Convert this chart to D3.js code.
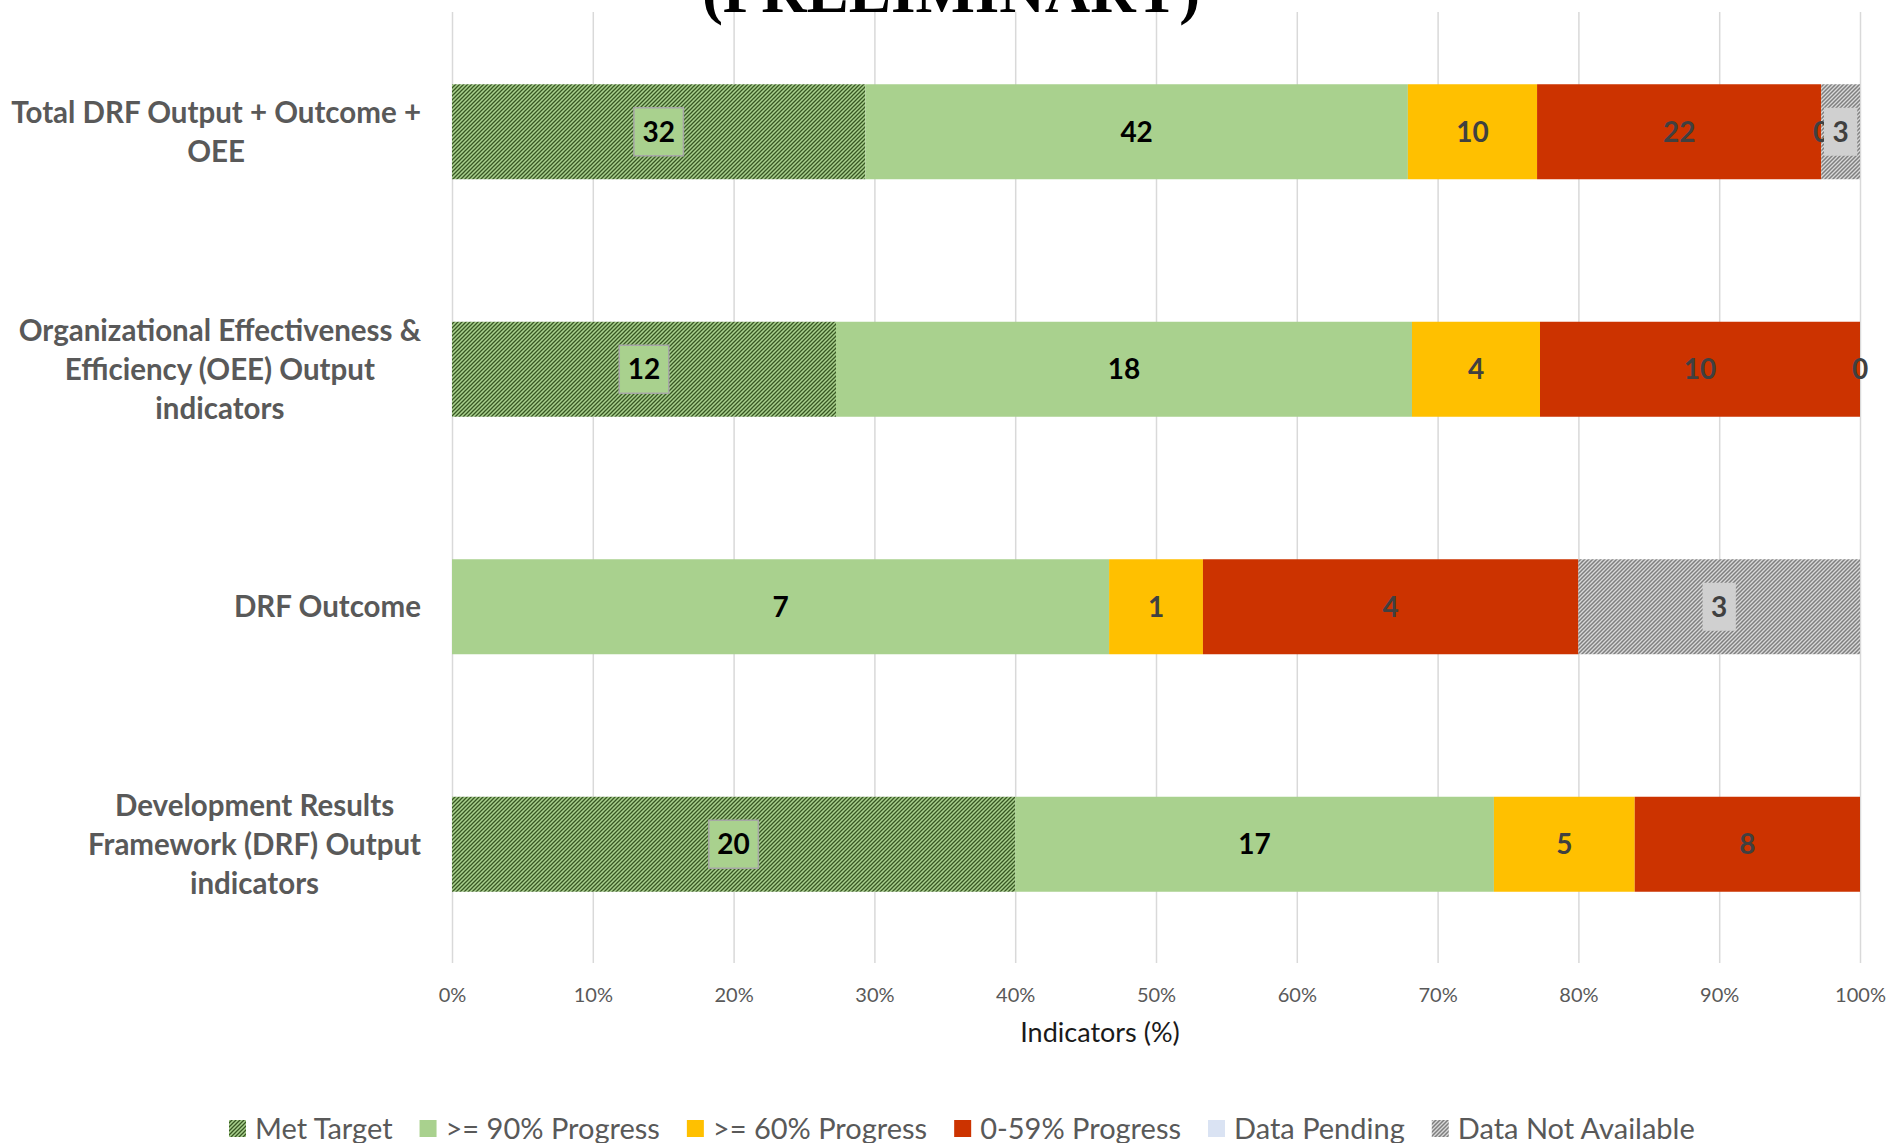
<!DOCTYPE html>
<html>
<head>
<meta charset="utf-8">
<script src="https://cdn.jsdelivr.net/npm/d3@7"></script>
<style>
  body { margin: 0; background: #fff; }
  svg { display: block; }
</style>
</head>
<body>
<div id="chart"></div>
<script>
// chart data
const categories = [
    "Total DRF Output + Outcome + OEE",
    "Organizational Effectiveness & Efficiency (OEE) Output indicators",
    "DRF Outcome",
    "Development Results Framework (DRF) Output indicators"
];
const categoryLines = [
    ["Total DRF Output + Outcome +", "OEE"],
    ["Organizational Effectiveness &", "Efficiency (OEE) Output", "indicators"],
    ["DRF Outcome"],
    ["Development Results", "Framework (DRF) Output", "indicators"]
];
const seriesNames = ["Met Target", ">= 90% Progress", ">= 60% Progress", "0-59% Progress", "Data Pending", "Data Not Available"];
const metTarget = [32, 12, null, 20];
const progress90 = [42, 18, 7, 17];
const progress60 = [10, 4, 1, 5];
const progress0to59 = [22, 10, 4, 8];
const dataPending = [0, 0, null, null];
const dataNotAvailable = [3, null, 3, null];
const xTicks = [0, 0.1, 0.2, 0.3, 0.4, 0.5, 0.6, 0.7, 0.8, 0.9, 1];

const seriesValues = [metTarget, progress90, progress60, progress0to59, dataPending, dataNotAvailable];
const fills = ["url(#hatchGreen)", "#a9d18e", "#ffc000", "#cc3300", "#dae3f3", "url(#hatchGray)"];
const labelColors = ["#000", "#000", "#404040", "#404040", "#404040", "#404040"];

const width = 1891, height = 1143;
const svg = d3.select("#chart").append("svg")
    .attr("width", width)
    .attr("height", height);

// hatch patterns
const defs = svg.append("defs");
function hatch(id, bg, fg, sw) {
    const p = defs.append("pattern")
        .attr("id", id)
        .attr("patternUnits", "userSpaceOnUse")
        .attr("width", 4)
        .attr("height", 4);
    p.append("rect").attr("width", 4).attr("height", 4).attr("fill", bg);
    p.append("path")
        .attr("d", "M-1,1 l2,-2 M0,4 l4,-4 M3,5 l2,-2")
        .attr("stroke", fg)
        .attr("stroke-width", sw);
}
hatch("hatchGreen", "#a9d18e", "#385723", 1.3);
hatch("hatchGray", "#d9d9d9", "#7f7f7f", 1.5);

const x = d3.scaleLinear().domain([0, 1]).range([452, 1860]);
const y = d3.scaleBand().domain(categories).range([13, 963])
    .paddingInner(0.6).paddingOuter(0.3);

// gridlines
svg.append("g")
    .attr("transform", "translate(0,963)")
    .call(d3.axisBottom(x).tickValues(xTicks).tickSize(-951).tickFormat(""))
    .call(g => g.select(".domain").remove())
    .call(g => g.selectAll("line").attr("stroke", "#d9d9d9").attr("stroke-width", 1.5));

// tick labels
svg.append("g")
    .attr("transform", "translate(0,985)")
    .call(d3.axisBottom(x).tickValues(xTicks).tickSize(0).tickFormat(d3.format(".0%")))
    .call(g => g.select(".domain").remove())
    .call(g => g.selectAll("text")
        .attr("fill", "#595959")
        .style("font-family", "Lato, sans-serif")
        .style("font-size", "20px"));

// axis title
svg.append("text")
    .attr("x", 1100)
    .attr("y", 1042)
    .attr("text-anchor", "middle")
    .style("font-family", "Lato, sans-serif")
    .style("font-size", "27px")
    .attr("fill", "#1a1a1a")
    .text("Indicators (%)");

// stacked data
const rows = categories.map((c, i) => {
    const r = { category: c };
    seriesNames.forEach((s, j) => r[s] = seriesValues[j][i] || 0);
    return r;
});
const stack = d3.stack().keys(seriesNames).offset(d3.stackOffsetExpand);
const stacked = stack(rows);

const layers = svg.append("g").selectAll("g")
    .data(stacked)
    .enter().append("g")
    .attr("fill", (d, i) => fills[i]);

layers.selectAll("rect")
    .data(d => d)
    .enter().append("rect")
    .attr("x", d => x(d[0]))
    .attr("y", d => y(d.data.category))
    .attr("width", d => x(d[1]) - x(d[0]))
    .attr("height", y.bandwidth());

// data labels
const labelG = svg.append("g")
    .style("font-family", "Lato, sans-serif")
    .style("font-weight", "bold")
    .style("font-size", "28px");

stacked.forEach((layer, si) => {
    layer.forEach((d, ci) => {
        const v = seriesValues[si][ci];
        if (v === null || v === undefined) return;
        const cx = x((d[0] + d[1]) / 2);
        const cy = y(d.data.category) + y.bandwidth() / 2;
        const g = labelG.append("g");
        const t = g.append("text")
            .attr("x", cx)
            .attr("y", cy)
            .attr("dy", "0.35em")
            .attr("text-anchor", "middle")
            .attr("fill", labelColors[si])
            .text(v);
        if (si === 0 || si === 5) {
            const w = t.node().getComputedTextLength() + 17;
            g.insert("rect", "text")
                .attr("x", cx - w / 2)
                .attr("y", cy - 24)
                .attr("width", w)
                .attr("height", 48)
                .attr("fill", si === 0 ? "#a9d18e" : "#d0d0d0")
                .attr("stroke", si === 0 ? "#a6a6a6" : "none")
                .attr("stroke-width", 1.5);
        }
    });
});

// category labels (each block right aligned, lines centered inside block)
const catG = svg.append("g")
    .style("font-family", "Lato, sans-serif")
    .style("font-weight", "bold")
    .style("font-size", "29.5px")
    .attr("fill", "#595959");

categories.forEach((c, i) => {
    const lines = categoryLines[i];
    const lh = 39;
    const cy = y(c) + y.bandwidth() / 2;
    const t = catG.append("text").attr("text-anchor", "middle");
    const spans = lines.map((ln, k) => t.append("tspan")
        .attr("y", cy + (k - (lines.length - 1) / 2) * lh)
        .attr("dy", "0.35em")
        .text(ln));
    const maxW = d3.max(spans, s => s.node().getComputedTextLength());
    spans.forEach(s => s.attr("x", 421 - maxW / 2));
});

// title (partly cut off at top)
svg.append("text")
    .attr("x", 951)
    .attr("y", 12)
    .attr("text-anchor", "middle")
    .style("font-family", "'Liberation Serif', serif")
    .style("font-weight", "bold")
    .style("font-size", "63px")
    .attr("fill", "#000")
    .text("(PRELIMINARY)");

// legend
const legendFills = ["url(#hatchGreen)", "#a9d18e", "#ffc000", "#cc3300", "#dae3f3", "url(#hatchGray)"];
const legend = svg.append("g")
    .style("font-family", "Lato, sans-serif")
    .style("font-size", "29px")
    .attr("fill", "#595959");
let lx = 229;
seriesNames.forEach((s, i) => {
    legend.append("rect")
        .attr("x", lx)
        .attr("y", 1120)
        .attr("width", 17)
        .attr("height", 17)
        .attr("fill", legendFills[i]);
    const t = legend.append("text")
        .attr("x", lx + 26)
        .attr("y", 1129)
        .attr("dy", "0.35em")
        .text(s);
    lx += 26 + t.node().getComputedTextLength() + 27;
});
</script>
</body>
</html>
